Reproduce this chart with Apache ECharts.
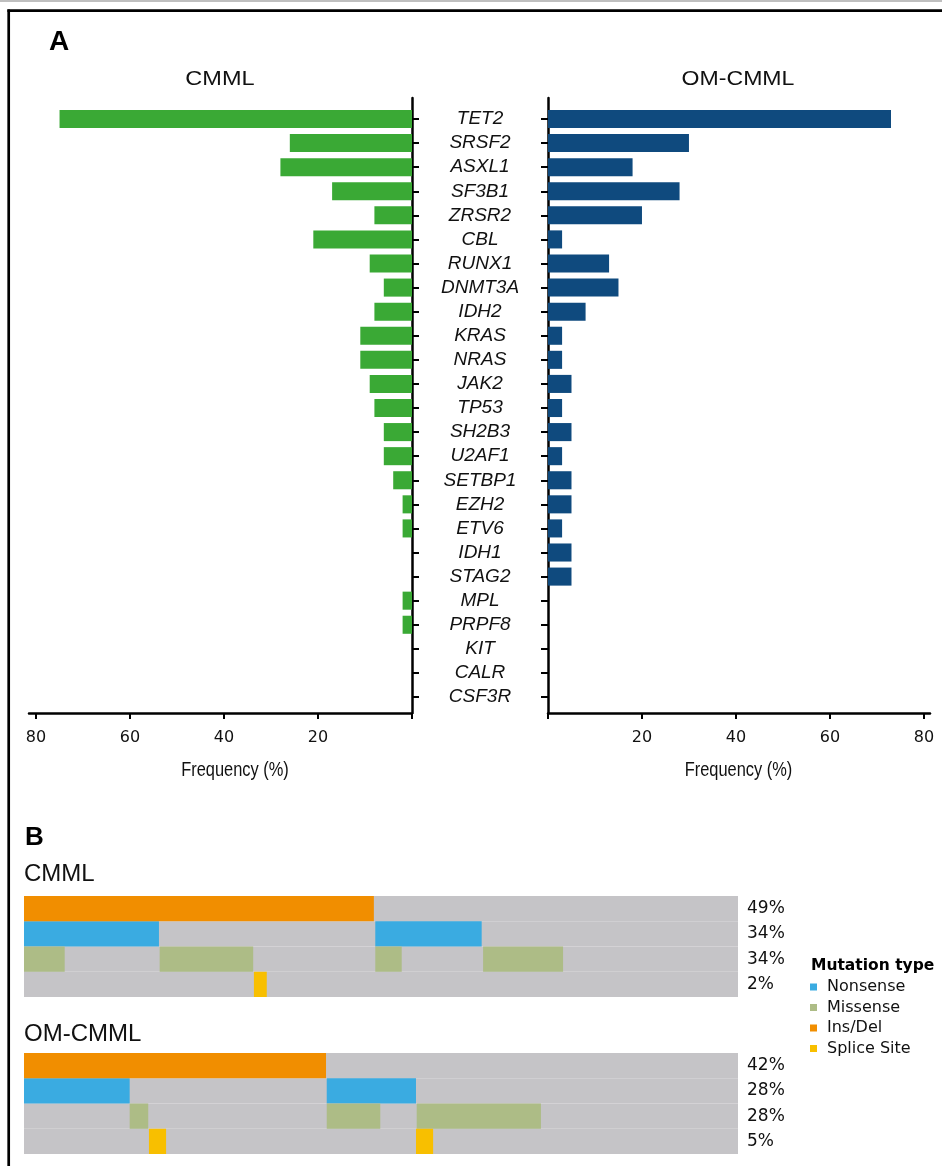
<!DOCTYPE html>
<html><head><meta charset="utf-8">
<script src="https://cdn.jsdelivr.net/npm/echarts@6/dist/echarts.min.js"></script>
<style>html,body{margin:0;padding:0;background:#fff}#c{width:942px;height:1166px}</style>
</head><body><div id="c"></div>
<script>
// ---------- Panel A data ----------
const genes = ['TET2','SRSF2','ASXL1','SF3B1','ZRSR2','CBL','RUNX1','DNMT3A','IDH2','KRAS','NRAS','JAK2','TP53','SH2B3','U2AF1','SETBP1','EZH2','ETV6','IDH1','STAG2','MPL','PRPF8','KIT','CALR','CSF3R'];
const cmmlFreq = [75, 26, 28, 17, 8, 21, 9, 6, 8, 11, 11, 9, 8, 6, 6, 4, 2, 2, 0, 0, 2, 2, 0, 0, 0];
const omFreq   = [73, 30, 18, 28, 20, 3, 13, 15, 8, 3, 3, 5, 3, 5, 3, 5, 5, 3, 5, 5, 0, 0, 0, 0, 0];
const freqTicks = [0, 20, 40, 60, 80];
const freqLabels = [20, 40, 60, 80];

// ---------- Panel B data ----------
const trackRows = ['Ins/Del', 'Nonsense', 'Missense', 'Splice Site'];
const cmmlTrackPct = ['49%', '34%', '34%', '2%'];
const omTrackPct = ['42%', '28%', '28%', '5%'];
// [start %, end %] of patient columns altered, per mutation row
const cmmlInsDel   = [[0, 49.0]];
const cmmlNonsense = [[0, 18.9], [49.2, 64.1]];
const cmmlMissense = [[0, 5.7], [19.0, 32.1], [49.2, 52.9], [64.3, 75.5]];
const cmmlSplice   = [[32.2, 34.0]];
const omInsDel   = [[0, 42.3]];
const omNonsense = [[0, 14.8], [42.4, 54.9]];
const omMissense = [[14.8, 17.4], [42.4, 49.9], [55.0, 72.4]];
const omSplice   = [[17.5, 19.9], [54.9, 57.3]];

const typeColors = {'Nonsense':'#3AABE1','Missense':'#ADBC86','Ins/Del':'#F18E00','Splice Site':'#F8BF00'};
const trackBg = '#C5C4C7';

const chart = echarts.init(document.getElementById('c'), null, {renderer:'canvas'});

function barItem(params, api){
  const i = api.value(1);
  const p0 = api.coord([0, i]);
  const p1 = api.coord([api.value(0), i]);
  const h = api.size([0, 0.75])[1];
  return {type:'rect', shape:{x:Math.min(p0[0],p1[0]), y:p0[1]-h/2, width:Math.abs(p1[0]-p0[0]), height:h}, style:{fill:api.visual('color')}};
}
function trackItem(params, api){
  const r = api.value(2);
  const a = api.coord([api.value(0), r]);
  const b = api.coord([api.value(1), r]);
  const h = api.size([0, 1])[1];
  return {type:'rect', shape:{x:a[0], y:a[1]-h/2, width:b[0]-a[0], height:h}, style:{fill:api.visual('color')}};
}
function rowData(intervals, row){ return intervals.map(d => [d[0], d[1], row]); }

const geneIdx = genes.map((g,i)=>i);
const axisBlack = {show:true, onZero:false, lineStyle:{color:'#000', width:2.5}};
const sansTick = {fontFamily:'DejaVu Sans', fontSize:16, color:'#111'};

function freqX(gridIndex, inverse, max){
  return {type:'value', gridIndex, inverse, min:0, max, position:'bottom',
    axisLine:axisBlack, splitLine:{show:false},
    axisTick:{show:true, customValues:freqTicks, length:6, lineStyle:{color:'#000', width:2}},
    axisLabel:Object.assign({customValues:freqLabels, margin:17}, sansTick)};
}
function geneY(gridIndex, pos, showLabel){
  return {type:'value', gridIndex, inverse:true, min:-0.872, max:24.664, position:pos,
    axisLine:axisBlack, splitLine:{show:false},
    axisTick:{show:true, customValues:geneIdx, length:7, lineStyle:{color:'#000', width:2}},
    axisLabel:{show:showLabel, customValues:geneIdx, formatter:v => genes[Math.round(v)],
      margin:68, align:'center', fontStyle:'italic', fontFamily:'Liberation Sans', fontSize:19, color:'#111'}};
}
function trackX(gridIndex){ return {type:'value', gridIndex, min:0, max:100, show:false}; }
function trackY(gridIndex, pct){
  return {type:'category', gridIndex, data:trackRows, inverse:true, position:'right',
    axisLine:{show:false}, axisTick:{show:false}, splitLine:{show:false},
    axisLabel:{formatter:(v,i)=>pct[i], margin:9, fontFamily:'DejaVu Sans', fontSize:17, color:'#111'}};
}

const series = [
  {type:'custom', name:'CMML', xAxisIndex:0, yAxisIndex:0, renderItem:barItem, itemStyle:{color:'#3AA935'},
   encode:{x:0, y:1}, data:cmmlFreq.map((v,i)=>[v,i]), silent:true, z:3},
  {type:'custom', name:'OM-CMML', xAxisIndex:1, yAxisIndex:1, renderItem:barItem, itemStyle:{color:'#0F4A7E'},
   encode:{x:0, y:1}, data:omFreq.map((v,i)=>[v,i]), silent:true, z:3},
  {type:'bar', name:'bgC', xAxisIndex:2, yAxisIndex:2, data:trackRows.map(()=>100), barWidth:'100%', itemStyle:{color:trackBg}, silent:true, z:1},
  {type:'bar', name:'bgO', xAxisIndex:3, yAxisIndex:3, data:trackRows.map(()=>100), barWidth:'100%', itemStyle:{color:trackBg}, silent:true, z:1}
];
const tracks = [
  [2, {'Ins/Del':cmmlInsDel, 'Nonsense':cmmlNonsense, 'Missense':cmmlMissense, 'Splice Site':cmmlSplice}],
  [3, {'Ins/Del':omInsDel, 'Nonsense':omNonsense, 'Missense':omMissense, 'Splice Site':omSplice}]
];
['Nonsense','Missense','Ins/Del','Splice Site'].forEach(name => {
  tracks.forEach(([gi, sets]) => {
    series.push({type:'custom', name, xAxisIndex:gi, yAxisIndex:gi, renderItem:trackItem,
      itemStyle:{color:typeColors[name]}, encode:{x:[0,1], y:2}, z:5,
      data:rowData(sets[name], trackRows.indexOf(name)), silent:true});
  });
});

function txt(x, y, text, font, extra, sx){
  return {type:'text', x, y, scaleX:sx||1, silent:true, style:Object.assign({text, fill:'#111', verticalAlign:'middle', align:'left'}, font, extra||{})};
}
const narrow = {fontFamily:'Liberation Sans', fontSize:20};

chart.setOption({
  animation:false,
  backgroundColor:'#fff',
  grid:[
    {left:29, top:98, width:383, height:615},
    {left:548, top:98, width:382, height:615},
    {left:24, top:896, width:714, height:101},
    {left:24, top:1053, width:714, height:101}
  ],
  xAxis:[freqX(0, true, 81.5), freqX(1, false, 81.3), trackX(2), trackX(3)],
  yAxis:[geneY(0, 'right', true), geneY(1, 'left', false), trackY(2, cmmlTrackPct), trackY(3, omTrackPct)],
  legend:{data:['Nonsense','Missense','Ins/Del','Splice Site'], orient:'vertical', left:810, top:977, padding:0,
    icon:'rect', itemWidth:7, itemHeight:7, itemGap:0.5, selectedMode:false,
    textStyle:{fontFamily:'DejaVu Sans', fontSize:16, lineHeight:20, color:'#111', padding:[0,0,0,5]}},
  series,
  graphic:[
    {type:'line', silent:true, shape:{x1:0, y1:1, x2:942, y2:1}, style:{stroke:'#aaa', lineWidth:1.5}},
    {type:'line', silent:true, shape:{x1:7.4, y1:10.7, x2:942, y2:10.7}, style:{stroke:'#000', lineWidth:2.7}},
    {type:'line', silent:true, shape:{x1:8.7, y1:9.4, x2:8.7, y2:1166}, style:{stroke:'#000', lineWidth:2.7}},
    txt(49, 42, 'A', {fontFamily:'Liberation Sans', fontWeight:'bold', fontSize:28}, {fill:'#000'}),
    txt(220, 79, 'CMML', {fontFamily:'Liberation Sans', fontSize:21}, {align:'center'}, 1.12),
    txt(738, 79, 'OM-CMML', {fontFamily:'Liberation Sans', fontSize:21}, {align:'center'}, 1.1),
    txt(235, 770, 'Frequency (%)', narrow, {align:'center'}, 0.82),
    txt(738.5, 770, 'Frequency (%)', narrow, {align:'center'}, 0.82),
    txt(25, 838, 'B', {fontFamily:'Liberation Sans', fontWeight:'bold', fontSize:26}, {fill:'#000'}),
    txt(24, 874, 'CMML', {fontFamily:'Liberation Sans', fontSize:24}),
    txt(24, 1034, 'OM-CMML', {fontFamily:'Liberation Sans', fontSize:24}),
    txt(811, 966, 'Mutation type', {fontFamily:'DejaVu Sans', fontWeight:'bold', fontSize:15.5}, {fill:'#000'})
  ]
});
</script></body></html>
